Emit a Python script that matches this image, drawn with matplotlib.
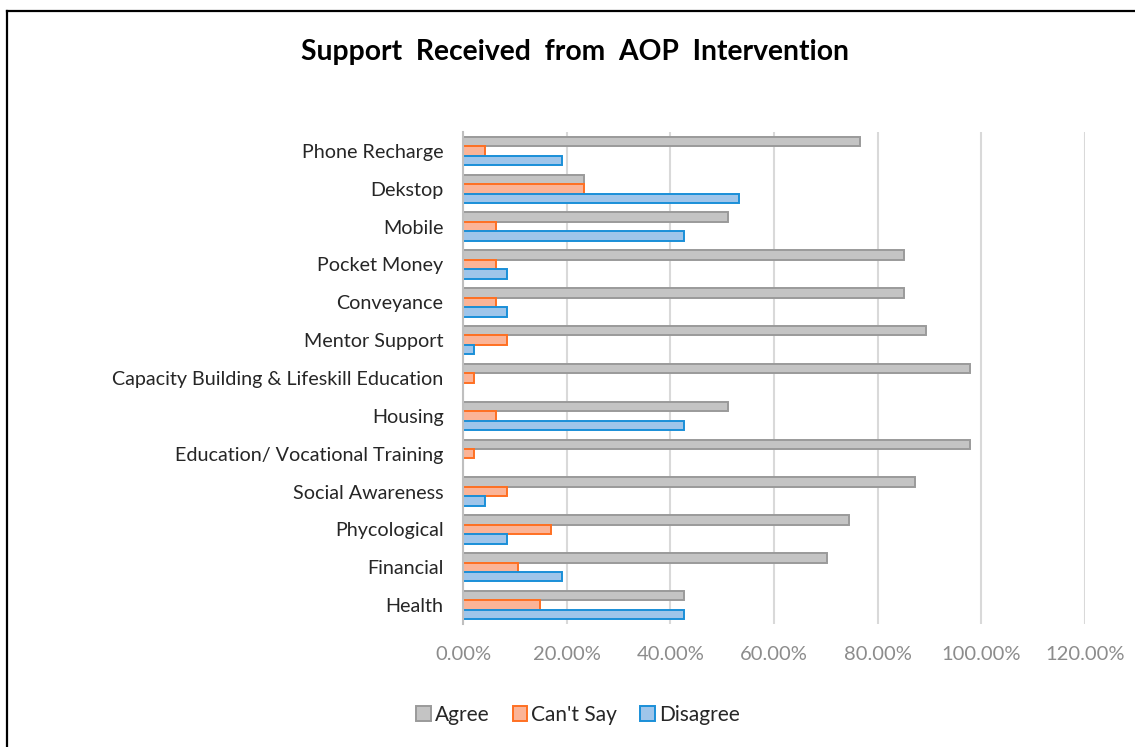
import numpy as np
import matplotlib.pyplot as plt
from matplotlib.lines import Line2D
from matplotlib.ticker import FuncFormatter

plt.rcParams['font.family'] = ['Lato', 'DejaVu Sans']

categories = ['Phone Recharge', 'Dekstop', 'Mobile', 'Pocket Money', 'Conveyance',
              'Mentor Support', 'Capacity Building & Lifeskill Education', 'Housing',
              'Education/ Vocational Training', 'Social Awareness', 'Phycological',
              'Financial', 'Health']
agree = [76.60, 23.40, 51.06, 85.11, 85.11, 89.36, 97.87, 51.06, 97.87, 87.23, 74.47, 70.21, 42.55]
cant_say = [4.26, 23.40, 6.38, 6.38, 6.38, 8.51, 2.13, 6.38, 2.13, 8.51, 17.02, 10.64, 14.89]
disagree = [19.15, 53.19, 42.55, 8.51, 8.51, 2.13, 0.00, 42.55, 0.00, 4.26, 8.51, 19.15, 42.55]

series = [('Agree', agree, '#c4c4c4', '#9a9a9a'),
          ("Can't Say", cant_say, '#fbb497', '#ff7022'),
          ('Disagree', disagree, '#9fc5ea', '#1a8fd8')]

fig = plt.figure(figsize=(11.35, 7.47), dpi=100)
ax = fig.add_axes([463 / 1135, 1 - 624 / 747, (1085 - 463) / 1135, (624 - 132) / 747])

y = np.arange(len(categories))
h = 0.25
for i, (name, vals, face, edge) in enumerate(series):
    ax.barh(y + (i - 1) * h, vals, height=h, color=face, edgecolor=edge,
            linewidth=1.4, label=name)

ax.set_ylim(len(categories) - 0.5, -0.5)
ax.set_xlim(0, 120)
ax.set_xticks(np.arange(0, 121, 20))
ax.xaxis.set_major_formatter(FuncFormatter(lambda v, p: '%.2f%%' % v))
ax.set_yticks(y)
ax.set_yticklabels(categories)
ax.tick_params(axis='x', length=0, labelsize=14.5, labelcolor='#8c8c8c', pad=16)
ax.tick_params(axis='y', length=0, labelsize=14.2, labelcolor='#262626', pad=14)
ax.grid(axis='x', color='#d9d9d9', linewidth=1.5)
ax.set_axisbelow(True)
for s in ['top', 'right', 'bottom']:
    ax.spines[s].set_visible(False)
ax.spines['left'].set_color('#bfbfbf')
ax.spines['left'].set_linewidth(1.5)

fig.text(575 / 1135, 1 - 52 / 747, 'Support  Received  from  AOP  Intervention',
         ha='center', va='center', fontsize=20.3, fontweight='bold', color='black')

ax.legend(loc='center', bbox_to_anchor=(578 / 1135, 1 - 715 / 747),
          bbox_transform=fig.transFigure, ncol=3, frameon=False, fontsize=15,
          handlelength=0.7, handleheight=0.7, handletextpad=0.2, columnspacing=1.1,
          labelcolor='#262626')

# outer frame
fig.add_artist(Line2D([7 / 1135, 7 / 1135], [0, 1 - 11 / 747], transform=fig.transFigure,
                      color='black', linewidth=1.6))
fig.add_artist(Line2D([7 / 1135, 1], [1 - 11 / 747, 1 - 11 / 747], transform=fig.transFigure,
                      color='black', linewidth=1.6))

fig.savefig('out.png', dpi=100)
